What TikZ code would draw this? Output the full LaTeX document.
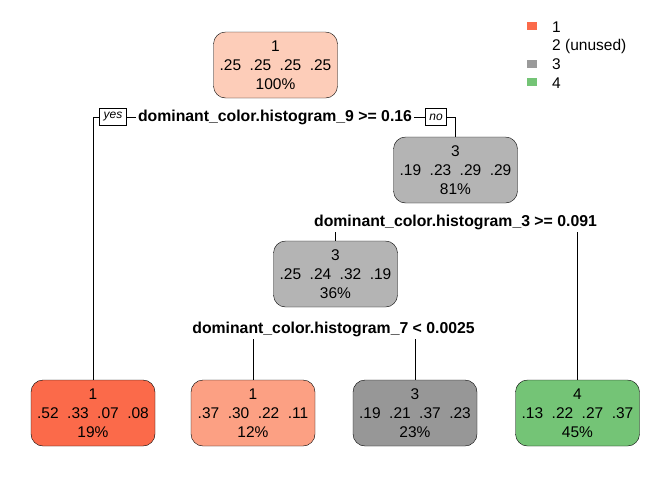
\documentclass[tikz,border=0pt]{standalone}
\usepackage{fontspec}
\setmainfont{Liberation Sans}
\usetikzlibrary{positioning}

% box colours
\definecolor{fillroot}{HTML}{FDCDB9}
\definecolor{fillone}{HTML}{FB6A4A}
\definecolor{filltwo}{HTML}{FCA083}
\definecolor{fillmid}{HTML}{B4B4B4}
\definecolor{filldark}{HTML}{979797}
\definecolor{fillgreen}{HTML}{74C476}
\definecolor{leggray}{HTML}{9A9A9A}

\newcommand{\probs}[4]{#1\hspace{8.5pt}#2\hspace{8.5pt}#3\hspace{8.5pt}#4}

\tikzset{
  treenode/.style={draw, rounded corners=12pt, minimum width=124pt, minimum height=66pt,
    align=center, inner sep=2pt, font=\fontsize{15.5}{19}\selectfont},
  splitlabel/.style={inner sep=2pt, font=\fontsize{15.8}{18}\selectfont\bfseries},
  yesno/.style={draw, fill=white, inner xsep=4pt, inner ysep=2pt, minimum height=17pt, font=\fontsize{12}{14}\selectfont\itshape},
  legbox/.style={minimum width=10pt, minimum height=8pt, inner sep=0pt},
  legtext/.style={anchor=west, inner sep=0pt, font=\fontsize{15.5}{17}\selectfont}
}

\begin{document}
\begin{tikzpicture}[x=1pt,y=-1pt]
  % canvas
  \useasboundingbox (0,0) rectangle (672,480);

  % tree nodes
  \node[treenode, fill=fillroot] (root) at (275.5,65) {1\\\probs{.25}{.25}{.25}{.25}\\100\%};
  \node[treenode, fill=fillmid] (n2) at (455.5,170) {3\\\probs{.19}{.23}{.29}{.29}\\81\%};
  \node[treenode, fill=fillmid] (n3) at (335.5,274) {3\\\probs{.25}{.24}{.32}{.19}\\36\%};

  % leaves
  \node[treenode, fill=fillone] (l1) at (93,413) {1\\\probs{.52}{.33}{.07}{.08}\\19\%};
  \node[treenode, fill=filltwo] (l2) at (253,413) {1\\\probs{.37}{.30}{.22}{.11}\\12\%};
  \node[treenode, fill=filldark] (l3) at (415,413) {3\\\probs{.19}{.21}{.37}{.23}\\23\%};
  \node[treenode, fill=fillgreen] (l4) at (577.5,413) {4\\\probs{.13}{.22}{.27}{.37}\\45\%};

  % split labels
  \node[splitlabel] (s1) at (275,117) {dominant\_color.histogram\_9 >= 0.16};
  \node[splitlabel] (s2) at (455.5,222) {dominant\_color.histogram\_3 >= 0.091};
  \node[splitlabel] (s3) at (333.5,329) {dominant\_color.histogram\_7 < 0.0025};
  \node[yesno] (yes) at (113,117) {yes};
  \node[yesno] (no) at (436,117) {no};

  % branches
  \draw (yes) -- (s1);
  \draw (s1) -- (no);
  \draw (yes.west) -| (l1.north);
  \draw (no.east) -| (n2.north);
  \draw (n3.north) -- (n3.north |- s2.south);
  \draw (l4.north) -- (l4.north |- s2.south);
  \draw (l2.north) -- (l2.north |- s3.south);
  \draw (l3.north) -- (l3.north |- s3.south);

  % legend
  \node[legbox, fill=fillone] (k1) at (532,26) {};
  \node[legbox, fill=leggray] (k3) at (532,64) {};
  \node[legbox, fill=fillgreen] (k4) at (532,82) {};
  \node[legtext] (t1) at (552,27) {1};
  \node[legtext] (t2) at (552,46) {2 (unused)};
  \node[legtext] (t3) at (552,64.5) {3};
  \node[legtext] (t4) at (552,83) {4};
\end{tikzpicture}
\end{document}
